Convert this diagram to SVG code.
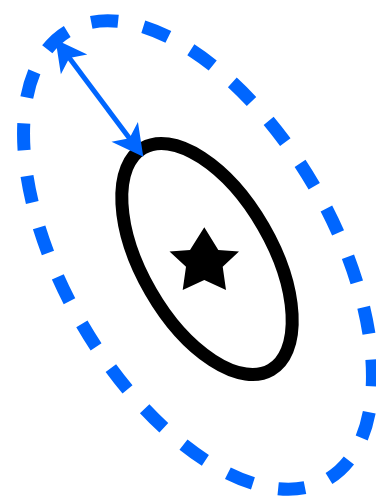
<svg xmlns="http://www.w3.org/2000/svg" width="376" height="499" viewBox="0 0 376 499">
  <style>
    .outer { fill: none; stroke: #0066ff; stroke-width: 13; stroke-dasharray: 27 25.86; stroke-dashoffset: 28.86; }
    .inner { fill: none; stroke: #000000; stroke-width: 13; }
    .star { fill: #000000; }
    .arrow { stroke: #0066ff; stroke-width: 5; fill: none; }
  </style>
  <defs>
    <marker id="stealth" markerUnits="userSpaceOnUse" orient="auto-start-reverse" refX="0" refY="0" markerWidth="60" markerHeight="60" overflow="visible">
      <path d="M20,0 L-11,-16.5 L-3,0 L-11,16.5 Z" fill="#0066ff"/>
    </marker>
  </defs>
  <rect width="376" height="499" fill="#ffffff"/>
  <g id="dashed-ellipse">
    <ellipse class="outer" cx="198" cy="255" rx="135" ry="259" transform="rotate(-30 198 255)"/>
  </g>
  <g id="solid-ellipse">
    <ellipse class="inner" cx="207" cy="259" rx="65" ry="128" transform="rotate(-30 207 259)"/>
  </g>
  <g id="star">
    <polygon class="star" points="204.3,227.3 218.3,250 239,251.5 222.7,266.7 226,290 204.3,280 182.7,290 186,266.7 169.5,251.5 190,250"/>
  </g>
  <g id="connectors">
    <line class="arrow" x1="67.5" y1="55.5" x2="131.3" y2="140.7" marker-start="url(#stealth)" marker-end="url(#stealth)"/>
  </g>
</svg>
